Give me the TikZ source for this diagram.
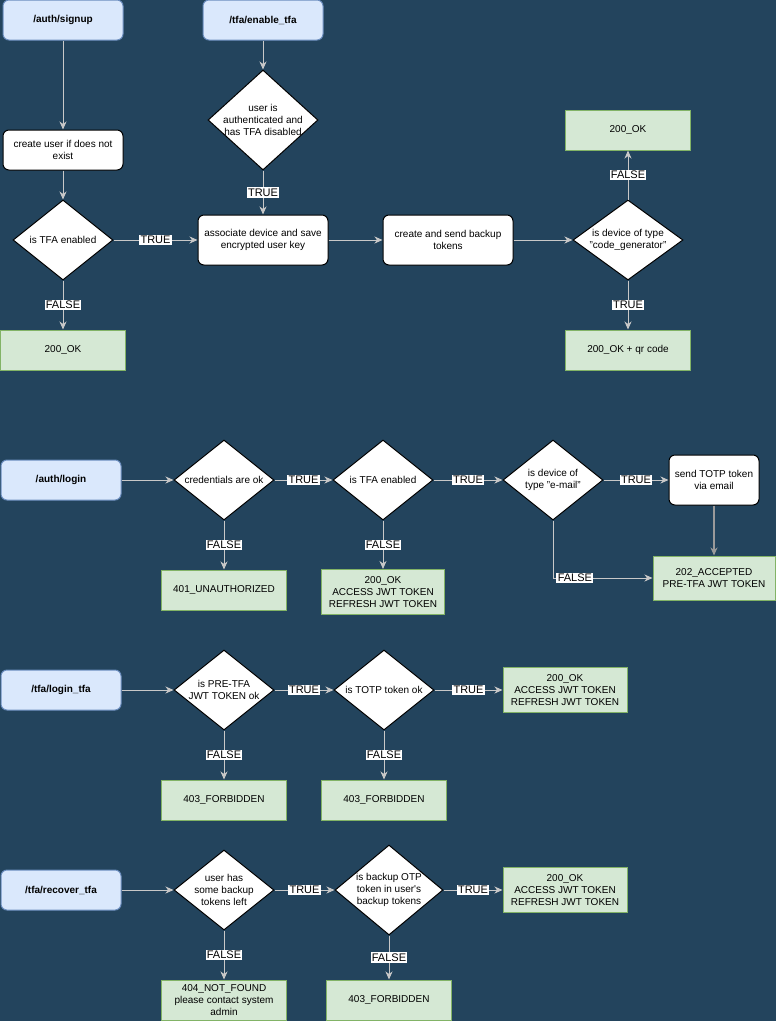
\documentclass[tikz,border=0pt]{standalone}
\usepackage{fontspec}
\setmainfont{Liberation Sans}
\usepackage{tikz}
\usetikzlibrary{arrows.meta, shapes.geometric}

\definecolor{bgblue}{HTML}{23445D}
\definecolor{routefill}{HTML}{DAE8FC}
\definecolor{routeline}{HTML}{6C8EBF}
\definecolor{okfill}{HTML}{D5E8D4}
\definecolor{okline}{HTML}{82B366}
\definecolor{flowline}{HTML}{C8C8C8}
\definecolor{flowdark}{HTML}{9A9A9A}

\tikzset{
  txt/.style={font=\fontsize{7.5}{9}\selectfont, align=center},
  route/.style={txt, draw=routeline, fill=routefill, rounded corners=4.5pt, line width=0.75pt,
    minimum width=90pt, minimum height=30pt, font=\bfseries\fontsize{7.5}{9}\selectfont},
  proc/.style={txt, draw=black, fill=white, rounded corners=4.5pt, line width=0.75pt,
    minimum width=90pt, minimum height=30pt, inner sep=1pt},
  result/.style={txt, draw=okline, fill=okfill, line width=0.75pt,
    minimum width=93.75pt, minimum height=30pt, inner sep=1pt},
  decision/.style={diamond, draw=black, fill=white, line width=0.75pt, inner sep=0pt,
    minimum width=75pt, minimum height=60pt},
  dtext/.style={txt, inner sep=0pt},
  flow/.style={draw=flowline, line width=0.75pt, -{Stealth[length=6pt, width=5.25pt, inset=1.8pt]}},
  tag/.style={fill=white, text=black, inner sep=1pt, font=\fontsize{8.25}{9}\selectfont},
}

\begin{document}
\begin{tikzpicture}[x=0.75pt, y=-0.75pt]
    \useasboundingbox (0,0) rectangle (776,1021);
    \fill[bgblue] (0,0) rectangle (776,1021);

    % signup / enable tfa
    \node[route] (signup) at (63,20) {/auth/signup};
    \node[route] (enable) at (263,20) {/tfa/enable\_tfa};
    \node[proc] (create) at (63,150) {create user if does not\\exist};
    \node[decision, label={[dtext]center:is TFA enabled}] (tfaon) at (63,240) {};
    \node[result] (ok1) at (63,350) {200\_OK};
    \node[decision, minimum width=82.5pt, minimum height=75pt,
        label={[dtext]center:user is\\authenticated and\\has TFA disabled}] (authd) at (263,120) {};
    \node[proc, minimum width=97.5pt, minimum height=37.5pt] (assoc) at (263,240) {associate device and save\\encrypted user key};
    \node[proc, minimum width=97.5pt, minimum height=37.5pt] (backup) at (448,240) {create and send backup\\tokens};
    \node[decision, minimum width=82.5pt,
        label={[dtext]center:is device of type\\"code\_generator"}] (gen) at (628,240) {};
    \node[result] (ok2) at (628,130) {200\_OK};
    \node[result] (qr) at (628,350) {200\_OK + qr code};

    \draw[flow] (signup) -- (create);
    \draw[flow] (create) -- (tfaon);
    \draw[flow] (tfaon) -- node[tag] {FALSE} (ok1);
    \draw[flow] (tfaon) -- node[tag] {TRUE} (assoc);
    \draw[flow] (enable) -- (authd);
    \draw[flow] (authd) -- node[tag] {TRUE} (assoc);
    \draw[flow] (assoc) -- (backup);
    \draw[flow] (backup) -- (gen);
    \draw[flow] (gen) -- node[tag] {FALSE} (ok2);
    \draw[flow] (gen) -- node[tag] {TRUE} (qr);

    % login
    \node[route] (login) at (61,480) {/auth/login};
    \node[decision, label={[dtext]center:credentials are ok}] (cred) at (224,480) {};
    \node[result] (unauth) at (224,590) {401\_UNAUTHORIZED};
    \node[decision, label={[dtext]center:is TFA enabled}] (tfaset) at (383,480) {};
    \node[result, minimum width=92.25pt, minimum height=33.75pt] (ok3) at (383,592) {200\_OK\\ACCESS JWT TOKEN\\REFRESH JWT TOKEN};
    \node[decision, label={[dtext]center:is device of\\type "e-mail"}] (mail) at (553,480) {};
    \node[proc, minimum width=67.5pt, minimum height=37.5pt] (totp) at (714,480) {send TOTP token\\via email};
    \node[result, minimum width=91.5pt, minimum height=33pt] (accepted) at (714,578) {202\_ACCEPTED\\PRE-TFA JWT TOKEN};

    \draw[flow] (login) -- (cred);
    \draw[flow] (cred) -- node[tag] {TRUE} (tfaset);
    \draw[flow] (cred) -- node[tag] {FALSE} (unauth);
    \draw[flow] (tfaset) -- node[tag] {TRUE} (mail);
    \draw[flow] (tfaset) -- node[tag] {FALSE} (ok3);
    \draw[flow] (mail) -- node[tag] {TRUE} (totp);
    \draw[flow] (mail.south) |- node[tag, pos=0.61] {FALSE} (accepted.west);
    \draw[flow, draw=flowdark, line width=1.2pt] (totp) -- (accepted);

    % login tfa
    \node[route] (logintfa) at (61,690) {/tfa/login\_tfa};
    \node[decision, label={[dtext]center:is PRE-TFA\\JWT TOKEN ok}] (pretfa) at (224,690) {};
    \node[result] (forb1) at (224,800) {403\_FORBIDDEN};
    \node[decision, label={[dtext]center:is TOTP token ok}] (totpok) at (384,690) {};
    \node[result] (forb2) at (384,800) {403\_FORBIDDEN};
    \node[result, minimum width=93pt, minimum height=33.75pt] (ok4) at (565,690) {200\_OK\\ACCESS JWT TOKEN\\REFRESH JWT TOKEN};

    \draw[flow] (logintfa) -- (pretfa);
    \draw[flow] (pretfa) -- node[tag] {TRUE} (totpok);
    \draw[flow] (pretfa) -- node[tag] {FALSE} (forb1);
    \draw[flow] (totpok) -- node[tag] {TRUE} (ok4);
    \draw[flow] (totpok) -- node[tag] {FALSE} (forb2);

    % recover tfa
    \node[route] (recover) at (61,890) {/tfa/recover\_tfa};
    \node[decision, label={[dtext]center:user has\\some backup\\tokens left}] (left) at (224,890) {};
    \node[result] (notfound) at (224,1000) {404\_NOT\_FOUND\\please contact system\\admin};
    \node[decision, minimum width=81pt, minimum height=67.5pt,
        label={[dtext]center:is backup OTP\\token in user\textquotesingle s\\backup tokens}] (otp) at (389,890) {};
    \node[result] (forb3) at (389,1000) {403\_FORBIDDEN};
    \node[result, minimum width=93pt, minimum height=33.75pt] (ok5) at (565,890) {200\_OK\\ACCESS JWT TOKEN\\REFRESH JWT TOKEN};

    \draw[flow] (recover) -- (left);
    \draw[flow] (left) -- node[tag] {TRUE} (otp);
    \draw[flow] (left) -- node[tag] {FALSE} (notfound);
    \draw[flow] (otp) -- node[tag] {TRUE} (ok5);
    \draw[flow] (otp) -- node[tag] {FALSE} (forb3);
\end{tikzpicture}
\end{document}
